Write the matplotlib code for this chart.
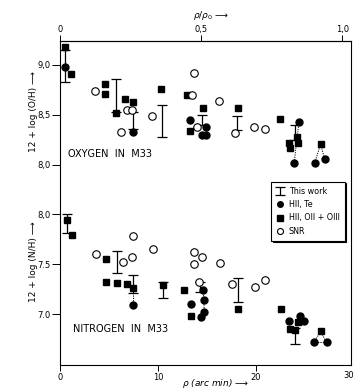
import matplotlib
matplotlib.use("Agg")
import matplotlib.pyplot as plt
import numpy as np

plt.rcParams['font.family'] = ['DejaVu Sans']

# ---------------- data ----------------
# Oxygen, 12+log(O/H); x = rho (arc min)
ox_te_x = [0.48, 7.41, 13.3, 14.9, 14.45, 14.95, 24.4, 23.9, 26.0, 27.0]
ox_te_y = [8.98, 8.33, 8.45, 8.38, 8.30, 8.30, 8.43, 8.02, 8.02, 8.06]

ox_sq_x = [0.48, 1.09, 4.63, 4.63, 5.75, 6.6, 7.41, 10.3, 12.96, 14.6, 18.2,
           13.3, 22.5, 24.2, 23.4, 23.5, 24.3, 26.6]
ox_sq_y = [9.18, 8.91, 8.81, 8.71, 8.52, 8.66, 8.63, 8.76, 8.70, 8.57, 8.57,
           8.34, 8.46, 8.28, 8.22, 8.17, 8.22, 8.21]

ox_snr_x = [3.54, 6.87, 7.3, 6.19, 9.35, 13.7, 13.5, 16.2, 14.0, 17.9, 19.8, 20.9]
ox_snr_y = [8.74, 8.55, 8.55, 8.33, 8.49, 8.92, 8.70, 8.64, 8.38, 8.32, 8.38, 8.36]

ox_bar_x = [0.48, 5.75, 7.41, 10.4, 14.45, 18.1, 23.95]
ox_bar_lo = [8.83, 8.53, 8.36, 8.28, 8.40, 8.35, 8.25]
ox_bar_hi = [9.15, 8.86, 8.53, 8.60, 8.50, 8.49, 8.40]

# Nitrogen, 12+log(N/H)
n_sq_x = [0.68, 1.26, 4.7, 4.7, 5.85, 6.84, 7.48, 10.5, 12.65, 13.4, 18.2,
          22.6, 23.5, 24.0, 24.25, 26.6]
n_sq_y = [7.94, 7.79, 7.55, 7.32, 7.31, 7.30, 7.26, 7.29, 7.24, 6.98, 7.05,
          7.05, 6.85, 6.84, 6.92, 6.83]

n_te_x = [7.48, 13.4, 14.6, 14.7, 14.7, 14.4, 23.4, 24.5, 24.9, 25.9, 27.2]
n_te_y = [7.09, 7.10, 7.24, 7.14, 7.02, 6.97, 6.93, 6.98, 6.93, 6.72, 6.72]

n_snr_x = [3.64, 6.4, 7.38, 7.42, 9.5, 13.7, 14.45, 13.7, 16.3, 14.2, 17.6, 19.9, 20.9]
n_snr_y = [7.60, 7.52, 7.57, 7.78, 7.65, 7.62, 7.57, 7.50, 7.51, 7.32, 7.30, 7.27, 7.34]

n_bar_x = [0.68, 5.85, 7.48, 10.5, 14.3, 18.2, 24.0]
n_bar_lo = [7.81, 7.42, 7.21, 7.16, 7.22, 7.12, 6.70]
n_bar_hi = [8.01, 7.63, 7.39, 7.32, 7.32, 7.36, 6.86]

# dotted links between measurements of the same region: (set, index) chains
ox_links = [[("te", 6), ("sq", 13), ("te", 7)],
            [("sq", 17), ("te", 8)], [("sq", 17), ("te", 9)]]
n_links = [[("sq", 6), ("te", 0)],
           [("te", 2), ("te", 3), ("te", 4), ("te", 5)],
           [("sq", 13), ("sq", 14), ("te", 7), ("te", 8)],
           [("te", 9), ("sq", 15), ("te", 10), ("te", 9)]]

rho0 = 28.8          # arc min corresponding to rho/rho0 = 1
N_OFF = -0.495       # vertical shift of the nitrogen panel on the common axis

# ---------------- figure ----------------
fig = plt.figure(figsize=(3.55, 3.89), dpi=100)
ax = fig.add_axes([60/355, 1-365/389, 291/355, 324/389])

ms = 5.0
sq_kw = dict(marker='s', ms=ms, color='black', ls='none', mec='black')
te_kw = dict(marker='o', ms=ms, color='black', ls='none', mec='black')
snr_kw = dict(marker='o', ms=ms + 0.4, mfc='white', mec='black', mew=0.8, ls='none')
bar_kw = dict(fmt='none', ecolor='black', elinewidth=0.9, capsize=3.5, capthick=0.9)


def draw_set(sqx, sqy, tex, tey, snx, sny, bx, blo, bhi, links, off, label):
    sqy_ = np.array(sqy) + off
    tey_ = np.array(tey) + off
    sny_ = np.array(sny) + off
    lo = np.array(blo) + off
    hi = np.array(bhi) + off
    sets = {"sq": (sqx, sqy_), "te": (tex, tey_)}
    for chain in links:
        xs = [sets[s][0][i] for s, i in chain]
        ys = [sets[s][1][i] for s, i in chain]
        ax.plot(xs, ys, ls=(0, (1.2, 1.2)), color='black', lw=0.7, zorder=1)
    eb = ax.errorbar(bx, (lo + hi) / 2, yerr=(hi - lo) / 2, zorder=2,
                     label='This work' if label else None, **bar_kw)
    h1, = ax.plot(tex, tey_, zorder=3, label='HII, Te' if label else None, **te_kw)
    h2, = ax.plot(sqx, sqy_, zorder=3, label='HII, OII + OIII' if label else None, **sq_kw)
    h3, = ax.plot(snx, sny_, zorder=3, label='SNR' if label else None, **snr_kw)
    return [eb, h1, h2, h3]


handles = draw_set(ox_sq_x, ox_sq_y, ox_te_x, ox_te_y, ox_snr_x, ox_snr_y,
                   ox_bar_x, ox_bar_lo, ox_bar_hi, ox_links, 0.0, True)
draw_set(n_sq_x, n_sq_y, n_te_x, n_te_y, n_snr_x, n_snr_y,
         n_bar_x, n_bar_lo, n_bar_hi, n_links, N_OFF, False)

ax.set_xlim(0, 29.7)
ax.set_ylim(6.0, 9.24)

# y ticks: oxygen scale above, nitrogen scale below
o_ticks = [9.0, 8.5, 8.0]
o_labels = ['9,0', '8,5', '8,0']
n_ticks = [8.0, 7.5, 7.0]
n_labels = ['8,0', '7.5', '7.0']
ax.set_yticks(o_ticks + [t + N_OFF for t in n_ticks])
ax.set_yticklabels(o_labels + n_labels)

ax.set_xticks([0, 10, 20])
ax.set_xticklabels(['0', '10', '20'])
ax.text(349/355, 1-375/389, '30', transform=fig.transFigure, ha='center',
        va='center', fontsize=6, clip_on=False)

ax.tick_params(axis='y', direction='out', length=5.5, width=0.7,
               labelsize=6, pad=1.0)
ax.tick_params(axis='x', direction='out', length=4, width=0.7,
               labelsize=6, pad=2.0)
for sp in ax.spines.values():
    sp.set_linewidth(0.8)

sec = ax.secondary_xaxis('top', functions=(lambda x: x / rho0, lambda r: r * rho0))
sec.set_xticks([0, 0.5, 1.0])
sec.set_xticklabels(['0', '0,5', '1,0'])
sec.tick_params(direction='out', length=4, width=0.7, labelsize=6, pad=1.0)

# labels
fig.text(211/355, 1-15/389, r'$\rho/\rho_0$ ⟶', ha='center', va='center', fontsize=6.5)
fig.text(215/355, 1-383/389, r'$\rho$ (arc min) ⟶', ha='center', va='center',
         fontsize=6.5, style='italic')
fig.text(33/355, 1-112/389, '12 + log (O/H) ⟶', rotation=90, ha='center',
         va='center', fontsize=6.5)
fig.text(33/355, 1-262/389, '12 + log (N/H) ⟶', rotation=90, ha='center',
         va='center', fontsize=6.5)

ax.text(68/355, 1-154/389, 'OXYGEN  IN  M33', transform=fig.transFigure,
        ha='left', va='center', fontsize=7)
ax.text(73/355, 1-329/389, 'NITROGEN  IN  M33', transform=fig.transFigure,
        ha='left', va='center', fontsize=7)

leg = ax.legend(handles=handles, loc='upper left',
                bbox_to_anchor=(0.712, 0.578), fontsize=5.8, frameon=True,
                fancybox=False, edgecolor='black', handlelength=1.0,
                handletextpad=0.6, labelspacing=0.55, borderpad=0.6,
                markerscale=0.8,
                shadow={'color': 'black', 'alpha': 1.0, 'ox': 1.2, 'oy': -1.2})
leg.get_frame().set_linewidth(0.8)

fig.savefig('out.png', dpi=100)
